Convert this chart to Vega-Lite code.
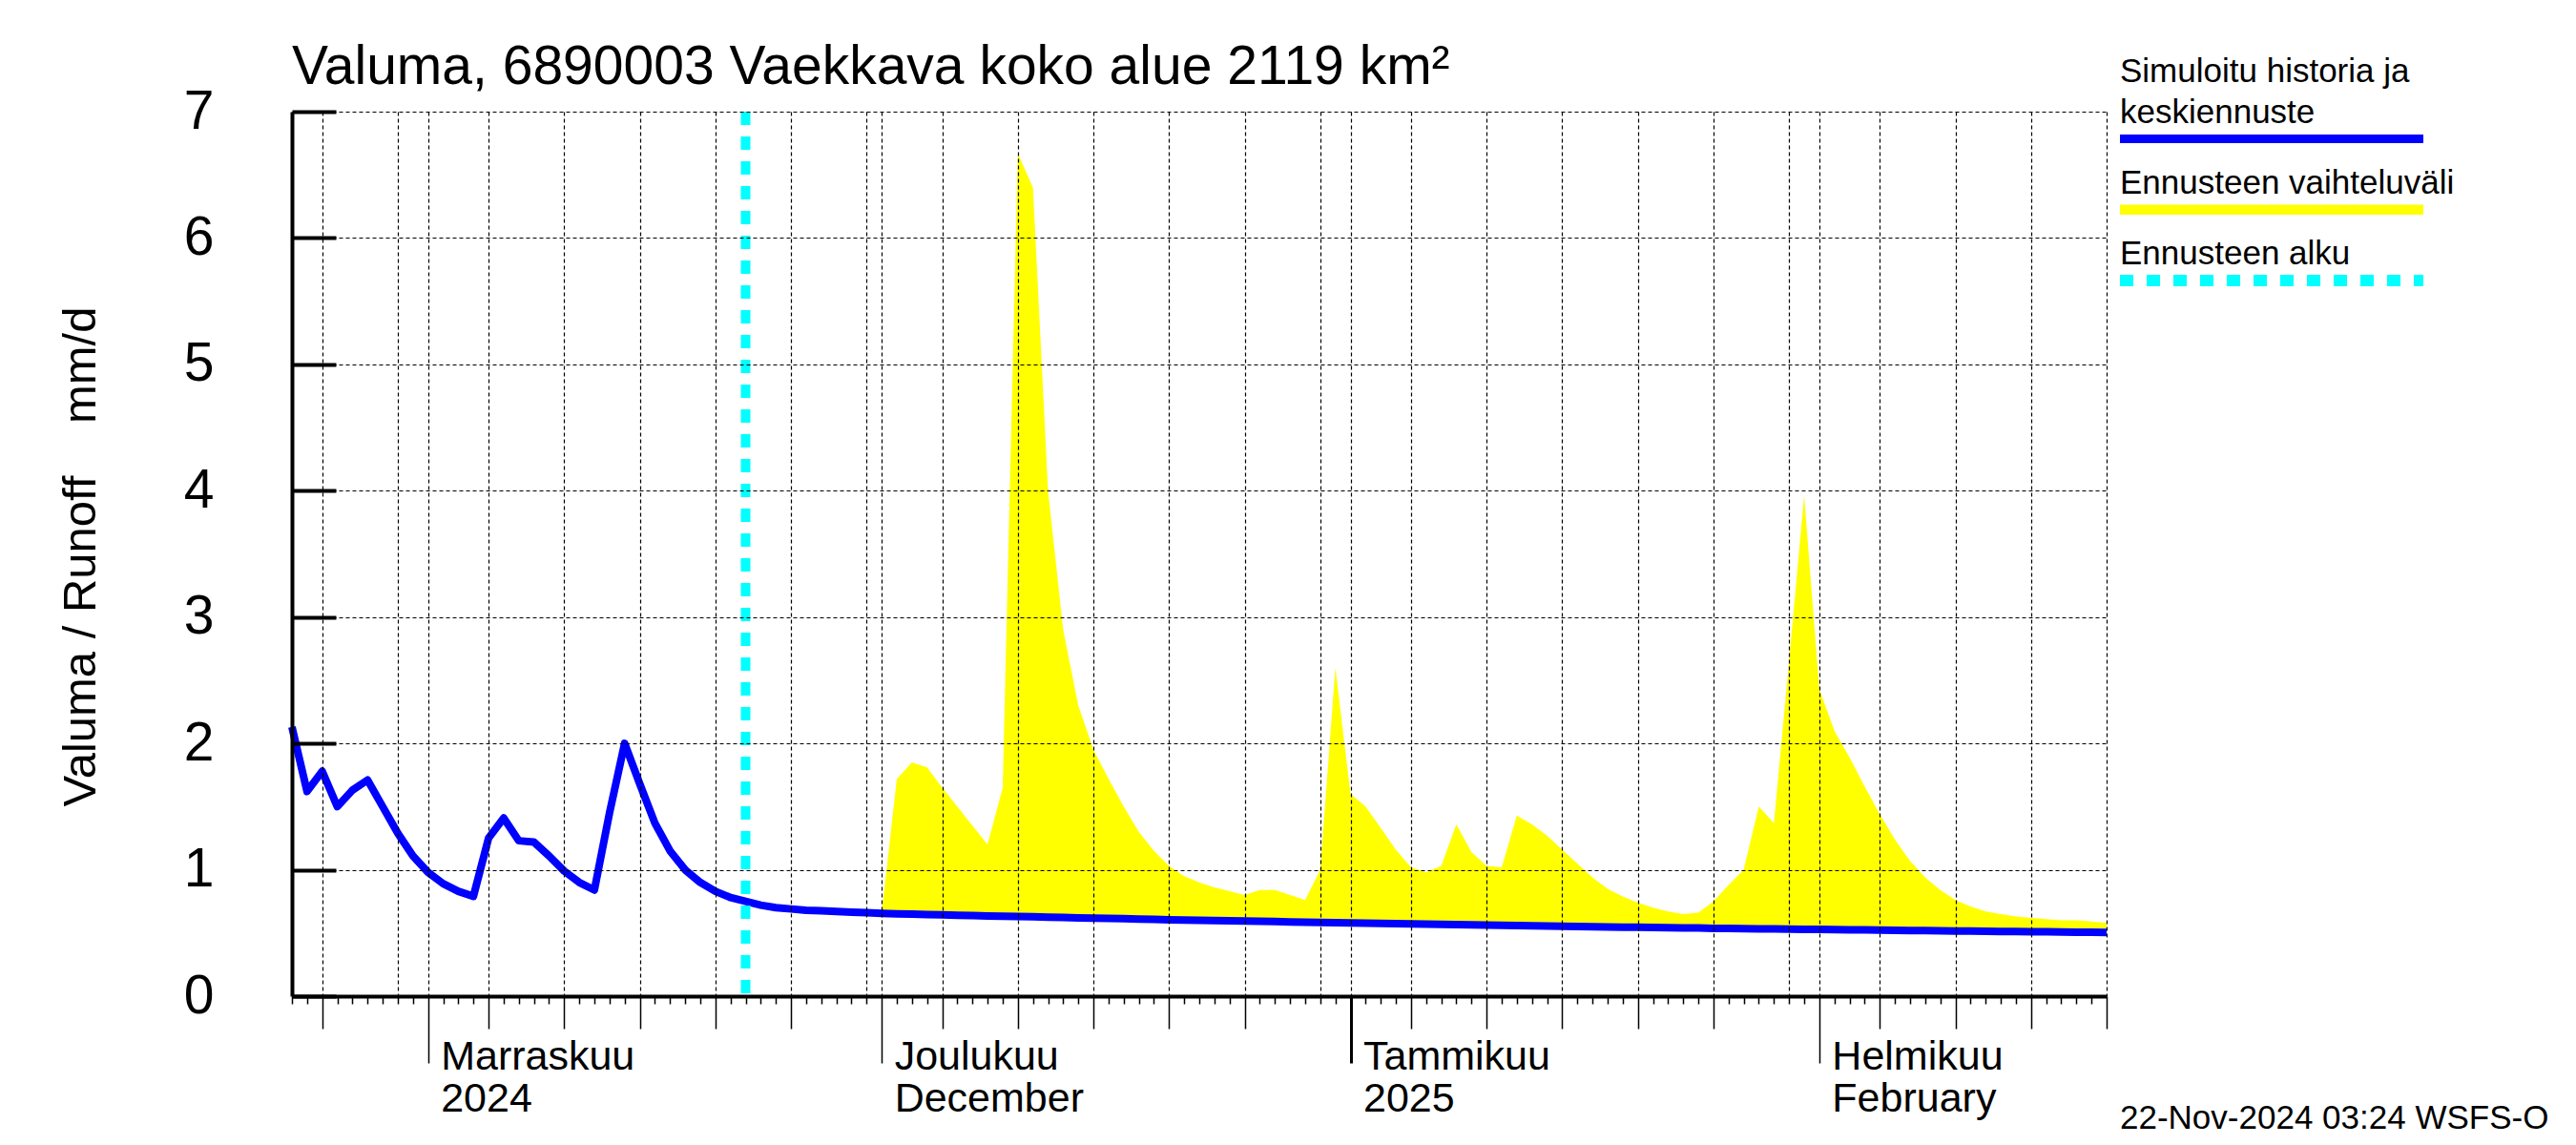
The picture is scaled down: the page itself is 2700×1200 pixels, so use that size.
{
  "$schema": "https://vega.github.io/schema/vega-lite/v6.json",
  "background": "white",
  "padding": {"left": 59, "top": 42, "right": 10, "bottom": 8},
  "spacing": -5,
  "config": {"view": {"stroke": null}, "font": "Liberation Sans"},
  "datasets": {
    "series": [
      {"d": "2024-10-23", "sim": 2.13},
      {"d": "2024-10-24", "sim": 1.62},
      {"d": "2024-10-25", "sim": 1.78},
      {"d": "2024-10-26", "sim": 1.50},
      {"d": "2024-10-27", "sim": 1.63},
      {"d": "2024-10-28", "sim": 1.71},
      {"d": "2024-10-29", "sim": 1.50},
      {"d": "2024-10-30", "sim": 1.29},
      {"d": "2024-10-31", "sim": 1.11},
      {"d": "2024-11-01", "sim": 0.98},
      {"d": "2024-11-02", "sim": 0.89},
      {"d": "2024-11-03", "sim": 0.83},
      {"d": "2024-11-04", "sim": 0.79},
      {"d": "2024-11-05", "sim": 1.25},
      {"d": "2024-11-06", "sim": 1.41},
      {"d": "2024-11-07", "sim": 1.23},
      {"d": "2024-11-08", "sim": 1.22},
      {"d": "2024-11-09", "sim": 1.11},
      {"d": "2024-11-10", "sim": 0.99},
      {"d": "2024-11-11", "sim": 0.90},
      {"d": "2024-11-12", "sim": 0.84},
      {"d": "2024-11-13", "sim": 1.45},
      {"d": "2024-11-14", "sim": 2.00},
      {"d": "2024-11-15", "sim": 1.68},
      {"d": "2024-11-16", "sim": 1.37},
      {"d": "2024-11-17", "sim": 1.15},
      {"d": "2024-11-18", "sim": 1.00},
      {"d": "2024-11-19", "sim": 0.90},
      {"d": "2024-11-20", "sim": 0.83},
      {"d": "2024-11-21", "sim": 0.78},
      {"d": "2024-11-22", "sim": 0.75, "hi": 0.75},
      {"d": "2024-11-23", "sim": 0.72, "hi": 0.72},
      {"d": "2024-11-24", "sim": 0.70, "hi": 0.70},
      {"d": "2024-11-25", "sim": 0.69, "hi": 0.69},
      {"d": "2024-11-26", "sim": 0.68, "hi": 0.68},
      {"d": "2024-11-27", "sim": 0.675, "hi": 0.675},
      {"d": "2024-11-28", "sim": 0.67, "hi": 0.67},
      {"d": "2024-11-29", "sim": 0.665, "hi": 0.665},
      {"d": "2024-11-30", "sim": 0.66, "hi": 0.66},
      {"d": "2024-12-01", "sim": 0.655, "hi": 0.66},
      {"d": "2024-12-02", "sim": 0.652, "hi": 1.72},
      {"d": "2024-12-03", "sim": 0.649, "hi": 1.85},
      {"d": "2024-12-04", "sim": 0.646, "hi": 1.81},
      {"d": "2024-12-05", "sim": 0.643, "hi": 1.65},
      {"d": "2024-12-06", "sim": 0.64, "hi": 1.5},
      {"d": "2024-12-07", "sim": 0.638, "hi": 1.35},
      {"d": "2024-12-08", "sim": 0.635, "hi": 1.2},
      {"d": "2024-12-09", "sim": 0.633, "hi": 1.65},
      {"d": "2024-12-10", "sim": 0.63, "hi": 6.67},
      {"d": "2024-12-11", "sim": 0.628, "hi": 6.4},
      {"d": "2024-12-12", "sim": 0.625, "hi": 4.0},
      {"d": "2024-12-13", "sim": 0.623, "hi": 2.9},
      {"d": "2024-12-14", "sim": 0.62, "hi": 2.3},
      {"d": "2024-12-15", "sim": 0.618, "hi": 1.95},
      {"d": "2024-12-16", "sim": 0.615, "hi": 1.72},
      {"d": "2024-12-17", "sim": 0.613, "hi": 1.5},
      {"d": "2024-12-18", "sim": 0.61, "hi": 1.3},
      {"d": "2024-12-19", "sim": 0.608, "hi": 1.15},
      {"d": "2024-12-20", "sim": 0.605, "hi": 1.03},
      {"d": "2024-12-21", "sim": 0.603, "hi": 0.95},
      {"d": "2024-12-22", "sim": 0.6, "hi": 0.9},
      {"d": "2024-12-23", "sim": 0.598, "hi": 0.86},
      {"d": "2024-12-24", "sim": 0.596, "hi": 0.83},
      {"d": "2024-12-25", "sim": 0.594, "hi": 0.8},
      {"d": "2024-12-26", "sim": 0.592, "hi": 0.84},
      {"d": "2024-12-27", "sim": 0.59, "hi": 0.84},
      {"d": "2024-12-28", "sim": 0.588, "hi": 0.8},
      {"d": "2024-12-29", "sim": 0.586, "hi": 0.76},
      {"d": "2024-12-30", "sim": 0.584, "hi": 1.0},
      {"d": "2024-12-31", "sim": 0.582, "hi": 2.6},
      {"d": "2025-01-01", "sim": 0.58, "hi": 1.6},
      {"d": "2025-01-02", "sim": 0.578, "hi": 1.5},
      {"d": "2025-01-03", "sim": 0.576, "hi": 1.33},
      {"d": "2025-01-04", "sim": 0.574, "hi": 1.16},
      {"d": "2025-01-05", "sim": 0.572, "hi": 1.02},
      {"d": "2025-01-06", "sim": 0.57, "hi": 0.98},
      {"d": "2025-01-07", "sim": 0.568, "hi": 1.03},
      {"d": "2025-01-08", "sim": 0.566, "hi": 1.36},
      {"d": "2025-01-09", "sim": 0.564, "hi": 1.14},
      {"d": "2025-01-10", "sim": 0.562, "hi": 1.03},
      {"d": "2025-01-11", "sim": 0.56, "hi": 1.02},
      {"d": "2025-01-12", "sim": 0.558, "hi": 1.43},
      {"d": "2025-01-13", "sim": 0.556, "hi": 1.36},
      {"d": "2025-01-14", "sim": 0.555, "hi": 1.27},
      {"d": "2025-01-15", "sim": 0.553, "hi": 1.16},
      {"d": "2025-01-16", "sim": 0.551, "hi": 1.05},
      {"d": "2025-01-17", "sim": 0.55, "hi": 0.94},
      {"d": "2025-01-18", "sim": 0.548, "hi": 0.85},
      {"d": "2025-01-19", "sim": 0.546, "hi": 0.79},
      {"d": "2025-01-20", "sim": 0.545, "hi": 0.74},
      {"d": "2025-01-21", "sim": 0.543, "hi": 0.7},
      {"d": "2025-01-22", "sim": 0.542, "hi": 0.67},
      {"d": "2025-01-23", "sim": 0.54, "hi": 0.65},
      {"d": "2025-01-24", "sim": 0.539, "hi": 0.66},
      {"d": "2025-01-25", "sim": 0.537, "hi": 0.75},
      {"d": "2025-01-26", "sim": 0.536, "hi": 0.88},
      {"d": "2025-01-27", "sim": 0.534, "hi": 1.0},
      {"d": "2025-01-28", "sim": 0.533, "hi": 1.5},
      {"d": "2025-01-29", "sim": 0.532, "hi": 1.37},
      {"d": "2025-01-30", "sim": 0.53, "hi": 2.65},
      {"d": "2025-01-31", "sim": 0.529, "hi": 3.96},
      {"d": "2025-02-01", "sim": 0.528, "hi": 2.43},
      {"d": "2025-02-02", "sim": 0.526, "hi": 2.1},
      {"d": "2025-02-03", "sim": 0.525, "hi": 1.89},
      {"d": "2025-02-04", "sim": 0.524, "hi": 1.66},
      {"d": "2025-02-05", "sim": 0.522, "hi": 1.44},
      {"d": "2025-02-06", "sim": 0.521, "hi": 1.24},
      {"d": "2025-02-07", "sim": 0.52, "hi": 1.07},
      {"d": "2025-02-08", "sim": 0.519, "hi": 0.94},
      {"d": "2025-02-09", "sim": 0.517, "hi": 0.84},
      {"d": "2025-02-10", "sim": 0.516, "hi": 0.76},
      {"d": "2025-02-11", "sim": 0.515, "hi": 0.71},
      {"d": "2025-02-12", "sim": 0.514, "hi": 0.67},
      {"d": "2025-02-13", "sim": 0.512, "hi": 0.65},
      {"d": "2025-02-14", "sim": 0.511, "hi": 0.63},
      {"d": "2025-02-15", "sim": 0.51, "hi": 0.62},
      {"d": "2025-02-16", "sim": 0.509, "hi": 0.61},
      {"d": "2025-02-17", "sim": 0.508, "hi": 0.6},
      {"d": "2025-02-18", "sim": 0.506, "hi": 0.6},
      {"d": "2025-02-19", "sim": 0.505, "hi": 0.59},
      {"d": "2025-02-20", "sim": 0.504, "hi": 0.58}
    ],
    "start": [{"d": "2024-11-22"}],
    "legend": [
      {"k": "sim", "label": "keskiennuste", "top": "Simuloitu historia ja"},
      {"k": "range", "label": "Ennusteen vaihteluväli"},
      {"k": "start", "label": "Ennusteen alku"}
    ]
  },
  "hconcat": [
    {
      "width": 1902,
      "height": 927,
      "title": {
        "text": "Valuma, 6890003 Vaekkava koko alue 2119 km²",
        "anchor": "start",
        "frame": "group",
        "fontSize": 57,
        "fontWeight": "normal",
        "font": "Liberation Sans",
        "color": "black",
        "baseline": "alphabetic",
        "offset": -57
      },
      "data": {"name": "series"},
      "layer": [
        {
          "transform": [{"filter": "isValid(datum.hi)"}],
          "mark": {"type": "area", "color": "#ffff00", "opacity": 1},
          "encoding": {
            "x": {
              "field": "d",
              "type": "temporal",
              "title": null,
              "scale": {
                "type": "utc",
                "domain": [
                  {"year": 2024, "month": 10, "date": 23, "utc": true},
                  {"year": 2025, "month": 2, "date": 20, "utc": true}
                ]
              },
              "axis": {
                "zindex": 1,
                "tickCount": {"interval": "day", "step": 1},
                "grid": true,
                "gridColor": "black",
                "gridDash": [4, 3],
                "gridWidth": 1.2,
                "gridOpacity": {"condition": {"test": "utcdate(datum.value) == 1 || utcdate(datum.value) % 5 == 0", "value": 1}, "value": 0},
                "domainColor": "black",
                "domainWidth": 4,
                "tickColor": "black",
                "tickSize": {"condition": [
                  {"test": "utcdate(datum.value) == 1", "value": 70},
                  {"test": "utcdate(datum.value) % 5 == 0 && utcdate(datum.value) != 30", "value": 34}
                ], "value": 8},
                "tickWidth": {"condition": {"test": "utcmonth(datum.value) == 0 && utcdate(datum.value) == 1", "value": 3}, "value": 1.5},
                "labelExpr": "utcdate(datum.value) != 1 ? '' : utcmonth(datum.value) == 10 ? ['Marraskuu', '2024'] : utcmonth(datum.value) == 11 ? ['Joulukuu', 'December'] : utcmonth(datum.value) == 0 ? ['Tammikuu', '2025'] : utcmonth(datum.value) == 1 ? ['Helmikuu', 'February'] : ''",
                "labelAlign": "left",
                "labelBaseline": "top",
                "labelOffset": 13,
                "labelPadding": -28,
                "labelFontSize": 43,
                "labelLineHeight": 44,
                "labelLimit": 0,
                "labelColor": "black",
                "labelOverlap": false,
                "labelFlush": false,
                "labelBound": false
              }
            },
            "y": {
              "field": "hi",
              "type": "quantitative",
              "title": "Valuma / Runoff\u00a0\u00a0\u00a0\u00a0mm/d",
              "scale": {"domain": [0, 7], "nice": false, "zero": true},
              "axis": {
                "zindex": 1,
                "values": [0, 1, 2, 3, 4, 5, 6, 7],
                "format": "d",
                "grid": true,
                "gridColor": "black",
                "gridDash": [4, 3],
                "gridWidth": 1.2,
                "domainColor": "black",
                "domainWidth": 4,
                "tickColor": "black",
                "tickSize": -46,
                "tickWidth": 4,
                "labelPadding": 128,
                "labelFontSize": 57,
                "labelColor": "black",
                "labelOverlap": false,
                "titleFontSize": 49,
                "titleFontWeight": "normal",
                "titleColor": "black",
                "titleAngle": -90,
                "titleX": -207,
                "titleY": 466,
                "titleAlign": "center",
                "titleBaseline": "alphabetic"
              }
            },
            "y2": {"field": "sim"}
          }
        },
        {
          "mark": {"type": "line", "color": "#0000ff", "strokeWidth": 8, "strokeJoin": "round"},
          "encoding": {
            "x": {"field": "d", "type": "temporal", "title": null},
            "y": {"field": "sim", "type": "quantitative", "title": "Valuma / Runoff\u00a0\u00a0\u00a0\u00a0mm/d"}
          }
        },
        {
          "data": {"name": "start"},
          "mark": {"type": "rule", "color": "#00ffff", "strokeWidth": 10, "strokeDash": [14, 12]},
          "encoding": {
            "x": {"field": "d", "type": "temporal", "title": null}
          }
        }
      ]
    },
    {
      "width": 318,
      "height": 205.5,
      "data": {"name": "legend"},
      "title": {
        "text": "22-Nov-2024 03:24 WSFS-O",
        "orient": "bottom",
        "anchor": "start",
        "frame": "group",
        "fontSize": 35,
        "fontWeight": "normal",
        "font": "Liberation Sans",
        "color": "black",
        "baseline": "alphabetic",
        "offset": 860
      },
      "encoding": {
        "y": {
          "field": "k",
          "type": "nominal",
          "scale": {"type": "point", "domain": ["sim", "range", "start"], "padding": 0.384},
          "axis": null
        }
      },
      "layer": [
        {
          "mark": {"type": "rule"},
          "encoding": {
            "x": {"datum": 0, "type": "quantitative", "scale": {"domain": [0, 1]}, "axis": null},
            "x2": {"datum": 1},
            "color": {"field": "k", "type": "nominal", "scale": {"domain": ["sim", "range", "start"], "range": ["#0000ff", "#ffff00", "#00ffff"]}, "legend": null},
            "strokeDash": {"field": "k", "type": "nominal", "scale": {"domain": ["sim", "range", "start"], "range": [[1, 0], [1, 0], [14, 14]]}, "legend": null},
            "strokeWidth": {"field": "k", "type": "ordinal", "scale": {"domain": ["sim", "range", "start"], "range": [9, 12, 10]}, "legend": null}
          }
        },
        {
          "mark": {"type": "text", "align": "left", "baseline": "alphabetic", "dy": -17, "fontSize": 35, "color": "black", "font": "Liberation Sans"},
          "encoding": {
            "x": {"datum": 0, "type": "quantitative"},
            "text": {"field": "label"}
          }
        },
        {
          "transform": [{"filter": "isValid(datum.top)"}],
          "mark": {"type": "text", "align": "left", "baseline": "alphabetic", "dy": -60, "fontSize": 35, "color": "black", "font": "Liberation Sans"},
          "encoding": {
            "x": {"datum": 0, "type": "quantitative"},
            "text": {"field": "top"}
          }
        }
      ]
    }
  ]
}
